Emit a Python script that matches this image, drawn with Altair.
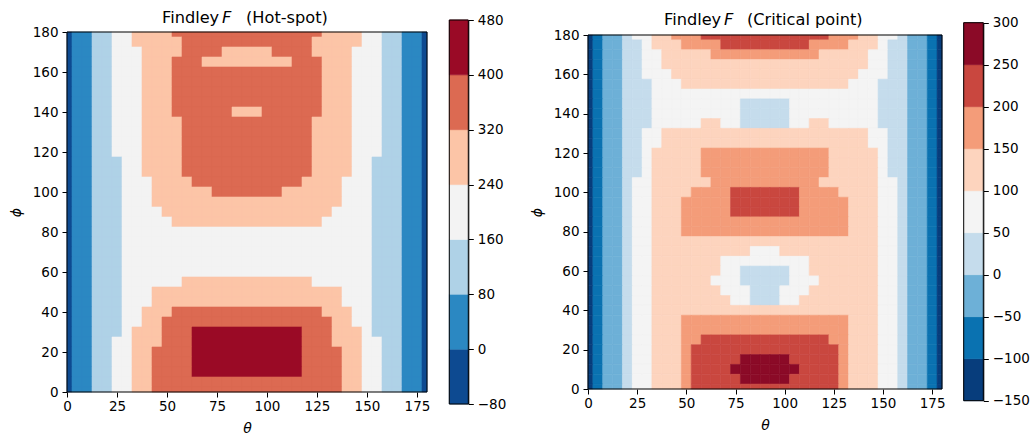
import altair as alt
import pandas as pd

# Sampling grid of the two Findley maps (degrees). Rows run from phi = 180 down to 0,
# columns from theta = 0 to 90; both maps are mirror-symmetric about theta = 90.
PHI = list(range(180, -1, -5))
THETA_HALF = list(range(0, 91, 5))

HOT_LEVELS = [-80, 0, 80, 160, 240, 320, 400, 480]
HOT_COLORS = ["#0d4a91", "#2b88c2", "#afd2e7", "#f3f3f3", "#fcc5a7", "#dc6a52", "#9a0a26"]

CRIT_LEVELS = [-150, -100, -50, 0, 50, 100, 150, 200, 250, 300]
CRIT_COLORS = ["#073d7c", "#0a72b1", "#6db0d7", "#c5dcec", "#f4f4f4",
               "#fdd4be", "#f49c79", "#c9473f", "#8b0a27"]

X_TICKS = [0, 25, 50, 75, 100, 125, 150, 175]
Y_TICKS = [0, 20, 40, 60, 80, 100, 120, 140, 160, 180]

# Findley parameter F at the hot-spot
HOT_F = [
    [-15, 25, 65, 102, 138, 176, 207, 241, 264, 288, 313, 330, 340, 345, 345, 340, 335, 330, 330],  # 180
    [-15, 25, 65, 102, 138, 175, 206, 240, 255, 271, 290, 316, 330, 335, 335, 333, 330, 328, 326],  # 175
    [-15, 25, 65, 102, 138, 175, 204, 238, 256, 275, 295, 317, 330, 328, 326, 321, 318, 317, 317],  # 170
    [-15, 25, 65, 102, 138, 173, 203, 237, 257, 277, 297, 321, 328, 322, 312, 308, 305, 303, 303],  # 165
    [-15, 25, 65, 102, 138, 172, 202, 235, 258, 280, 302, 322, 332, 334, 330, 326, 324, 322, 322],  # 160
    [-15, 25, 65, 102, 138, 171, 201, 233, 258, 283, 305, 325, 338, 345, 345, 345, 345, 343, 342],  # 155
    [-15, 25, 65, 102, 138, 170, 200, 232, 257, 282, 304, 324, 336, 342, 342, 340, 338, 335, 333],  # 150
    [-15, 25, 65, 102, 138, 169, 199, 231, 256, 280, 302, 323, 335, 340, 340, 338, 334, 330, 326],  # 145
    [-15, 25, 65, 102, 138, 168, 198, 230, 254, 278, 300, 321, 333, 338, 336, 331, 326, 318, 314],  # 140
    [-15, 25, 65, 102, 138, 167, 198, 229, 252, 275, 298, 316, 332, 340, 342, 340, 338, 335, 333],  # 135
    [-15, 25, 65, 102, 138, 166, 197, 228, 250, 271, 292, 310, 326, 340, 348, 350, 350, 350, 350],  # 130
    [-15, 25, 65, 102, 138, 163, 194, 227, 248, 269, 289, 308, 322, 338, 350, 354, 356, 357, 357],  # 125
    [-15, 25, 65, 102, 138, 161, 190, 225, 245, 266, 286, 305, 321, 338, 350, 355, 358, 360, 360],  # 120
    [-15, 25, 65, 102, 138, 155, 186, 223, 242, 263, 284, 305, 324, 340, 352, 358, 362, 364, 364],  # 115
    [-15, 25, 65, 102, 138, 150, 183, 222, 241, 260, 281, 302, 325, 340, 352, 360, 365, 368, 368],  # 110
    [-15, 22, 60, 93, 125, 148, 180, 218, 235, 255, 275, 293, 310, 326, 345, 355, 360, 362, 362],  # 105
    [-15, 22, 60, 93, 125, 147, 177, 215, 230, 250, 262, 275, 288, 300, 318, 332, 340, 345, 345],  # 100
    [-15, 22, 60, 93, 125, 146, 174, 210, 228, 243, 255, 265, 273, 280, 288, 295, 300, 305, 307],  # 95
    [-15, 22, 60, 93, 125, 146, 172, 205, 220, 235, 245, 253, 260, 265, 270, 273, 275, 276, 276],  # 90
    [-15, 22, 60, 93, 125, 145, 170, 202, 215, 228, 237, 244, 250, 253, 255, 256, 257, 257, 257],  # 85
    [-15, 22, 60, 93, 125, 143, 168, 200, 213, 222, 228, 232, 234, 235, 236, 236, 236, 236, 236],  # 80
    [-15, 22, 60, 93, 125, 142, 166, 197, 208, 213, 215, 214, 212, 208, 205, 202, 200, 199, 198],  # 75
    [-15, 22, 60, 93, 125, 140, 165, 195, 205, 210, 212, 212, 210, 207, 204, 202, 200, 199, 199],  # 70
    [-15, 22, 60, 93, 125, 135, 164, 193, 205, 212, 216, 218, 219, 219, 219, 219, 219, 219, 219],  # 65
    [-15, 22, 60, 93, 125, 130, 164, 193, 207, 216, 224, 230, 233, 234, 234, 233, 232, 232, 232],  # 60
    [-15, 22, 60, 93, 125, 135, 166, 196, 215, 225, 230, 238, 244, 246, 246, 245, 243, 241, 241],  # 55
    [-15, 22, 60, 93, 125, 140, 168, 200, 225, 241, 250, 262, 272, 280, 285, 288, 290, 290, 290],  # 50
    [-15, 25, 65, 100, 135, 146, 178, 215, 237, 255, 275, 292, 305, 312, 316, 318, 318, 318, 318],  # 45
    [-15, 25, 65, 100, 135, 150, 186, 226, 252, 275, 310, 325, 332, 340, 345, 350, 352, 353, 353],  # 40
    [-15, 25, 65, 100, 135, 154, 192, 232, 255, 285, 322, 345, 365, 380, 390, 395, 397, 398, 398],  # 35
    [-15, 25, 65, 100, 135, 158, 199, 242, 275, 312, 340, 362, 385, 405, 415, 420, 425, 428, 430],  # 30
    [-15, 25, 65, 100, 135, 160, 201, 244, 280, 318, 345, 368, 396, 412, 425, 432, 437, 440, 440],  # 25
    [-15, 25, 65, 100, 135, 162, 203, 245, 281, 321, 347, 370, 398, 415, 428, 436, 442, 444, 445],  # 20
    [-15, 25, 65, 100, 135, 164, 205, 245, 281, 321, 347, 370, 397, 414, 427, 435, 440, 442, 443],  # 15
    [-15, 25, 65, 100, 135, 166, 207, 246, 280, 321, 345, 366, 390, 408, 420, 427, 432, 434, 435],  # 10
    [-15, 25, 65, 100, 135, 167, 208, 246, 278, 321, 340, 358, 375, 388, 395, 398, 399, 399, 399],  # 5
    [-15, 25, 65, 100, 135, 168, 210, 247, 275, 321, 335, 350, 362, 370, 377, 382, 385, 386, 386],  # 0
]

# Findley parameter F at the critical point
CRIT_F = [
    [-110, -80, -45, -12, 20, 51, 80, 108, 130, 154, 170, 188, 202, 215, 225, 232, 237, 240, 241],  # 180
    [-110, -80, -45, -12, 20, 48, 78, 102, 122, 142, 155, 175, 190, 199, 204, 207, 209, 210, 210],  # 175
    [-110, -80, -46, -14, 16, 45, 75, 96, 112, 124, 133, 141, 148, 153, 156, 158, 159, 160, 160],  # 170
    [-110, -80, -47, -15, 14, 42, 70, 90, 104, 113, 120, 125, 130, 133, 135, 137, 138, 139, 139],  # 165
    [-110, -80, -48, -17, 10, 36, 60, 80, 94, 103, 108, 112, 115, 117, 118, 118, 118, 118, 118],  # 160
    [-110, -82, -48, -19, 7, 30, 46, 64, 78, 90, 101, 104, 106, 107, 107, 107, 106, 106, 106],  # 155
    [-110, -83, -48, -21, 4, 28, 48, 62, 72, 80, 86, 90, 92, 92, 90, 85, 75, 68, 65],  # 150
    [-110, -84, -49, -23, 1, 25, 42, 54, 64, 72, 78, 80, 78, 72, 62, 52, 40, 32, 28],  # 145
    [-110, -84, -49, -23, 1, 25, 43, 56, 67, 76, 83, 86, 84, 76, 64, 52, 38, 28, 22],  # 140
    [-110, -84, -48, -22, 3, 28, 46, 62, 75, 86, 94, 99, 101, 101, 92, 70, 48, 38, 35],  # 135
    [-110, -83, -47, -20, 8, 36, 58, 82, 102, 112, 120, 125, 128, 128, 125, 120, 114, 110, 108],  # 130
    [-110, -82, -47, -18, 12, 42, 68, 98, 112, 122, 130, 137, 142, 147, 149, 149, 149, 149, 149],  # 125
    [-110, -81, -47, -16, 15, 46, 72, 101, 118, 130, 138, 145, 152, 160, 165, 168, 170, 171, 171],  # 120
    [-110, -80, -47, -14, 17, 48, 74, 101, 118, 130, 138, 145, 153, 163, 170, 175, 178, 180, 180],  # 115
    [-110, -80, -47, -13, 18, 49, 76, 102, 120, 132, 140, 146, 152, 163, 172, 180, 185, 188, 188],  # 110
    [-110, -80, -46, -12, 20, 51, 77, 102, 120, 132, 140, 145, 148, 155, 170, 185, 193, 197, 198],  # 105
    [-110, -80, -46, -12, 20, 51, 78, 104, 125, 140, 148, 158, 170, 180, 192, 202, 208, 210, 210],  # 100
    [-110, -80, -46, -12, 20, 51, 78, 105, 127, 142, 152, 165, 180, 192, 199, 212, 218, 222, 223],  # 95
    [-110, -80, -46, -12, 20, 51, 78, 105, 127, 143, 155, 168, 182, 193, 199, 212, 218, 222, 223],  # 90
    [-110, -80, -46, -12, 20, 51, 78, 105, 126, 142, 154, 164, 174, 182, 188, 192, 195, 196, 197],  # 85
    [-110, -80, -46, -12, 20, 51, 78, 104, 122, 137, 151, 158, 164, 168, 170, 171, 172, 172, 172],  # 80
    [-110, -80, -46, -12, 20, 51, 77, 102, 117, 127, 135, 140, 143, 145, 146, 146, 145, 145, 145],  # 75
    [-110, -80, -46, -12, 20, 51, 77, 102, 113, 120, 124, 125, 124, 121, 116, 110, 104, 99, 98],  # 70
    [-110, -80, -46, -12, 20, 51, 76, 101, 110, 115, 117, 115, 110, 103, 94, 80, 65, 56, 52],  # 65
    [-110, -80, -46, -12, 20, 51, 76, 101, 108, 112, 112, 109, 103, 101, 82, 62, 44, 34, 30],  # 60
    [-110, -80, -46, -12, 20, 51, 76, 101, 108, 112, 112, 109, 103, 98, 84, 63, 44, 32, 26],  # 55
    [-110, -80, -46, -12, 20, 51, 76, 101, 109, 114, 116, 114, 110, 104, 92, 72, 52, 40, 36],  # 50
    [-110, -80, -46, -12, 20, 51, 77, 102, 113, 120, 124, 124, 120, 112, 103, 85, 58, 48, 45],  # 45
    [-110, -80, -46, -12, 20, 51, 77, 103, 118, 128, 136, 141, 144, 145, 143, 140, 135, 130, 128],  # 40
    [-110, -80, -46, -12, 20, 51, 77, 104, 125, 142, 155, 165, 172, 177, 180, 182, 183, 183, 183],  # 35
    [-110, -80, -46, -12, 20, 51, 78, 105, 128, 148, 165, 178, 188, 194, 197, 198, 199, 199, 199],  # 30
    [-110, -80, -46, -12, 20, 51, 78, 106, 130, 149, 172, 192, 203, 210, 215, 218, 220, 221, 221],  # 25
    [-110, -80, -46, -12, 20, 51, 78, 106, 130, 149, 178, 201, 212, 222, 232, 238, 242, 244, 245],  # 20
    [-110, -80, -46, -12, 20, 51, 78, 106, 130, 149, 180, 202, 215, 228, 240, 248, 251, 252, 252],  # 15
    [-110, -80, -46, -12, 20, 51, 78, 106, 130, 149, 180, 203, 218, 234, 246, 251, 262, 266, 268],  # 10
    [-110, -80, -46, -12, 20, 51, 78, 106, 130, 149, 178, 201, 215, 230, 242, 249, 257, 260, 261],  # 5
    [-110, -80, -46, -12, 20, 51, 78, 105, 128, 149, 172, 201, 208, 220, 232, 238, 242, 244, 245],  # 0
]

FONT = "DejaVu Sans"
STEP = 5.0


def grid_frame(rows):
    """One cell per (theta, phi) sample, theta mirrored about 90 degrees."""
    recs = []
    for phi, row in zip(PHI, rows):
        for th in range(0, 181, 5):
            idx = th // 5 if th <= 90 else (180 - th) // 5
            recs.append({
                "t0": max(th - STEP / 2, 0), "t1": min(th + STEP / 2, 180),
                "p0": max(phi - STEP / 2, 0), "p1": min(phi + STEP / 2, 180),
                "F": row[idx],
            })
    return pd.DataFrame(recs)


def panel(rows, levels, colors, w, h, top, cbar, title_parts, title_y):
    """Map of F with its colour bar; the map occupies y in [top, top + h]."""
    cscale = alt.Scale(type="threshold", domain=levels[1:-1], range=colors)
    xenc = alt.X("t0:Q", scale=alt.Scale(domain=[0, 180], nice=False, zero=False),
                 axis=alt.Axis(values=X_TICKS, title="θ", domain=False, labelFlush=False,
                               labelPadding=2))
    yenc = alt.Y("p0:Q", scale=alt.Scale(domain=[0, 180], range=[top + h, top],
                                         nice=False, zero=False),
                 axis=alt.Axis(values=Y_TICKS, title="ϕ", domain=False, labelFlush=False))

    heat = alt.Chart(grid_frame(rows)).mark_rect(strokeWidth=0.6).encode(
        x=xenc, x2="t1:Q", y=yenc, y2="p1:Q",
        color=alt.Color("F:Q", scale=cscale, legend=None),
        stroke=alt.Stroke("F:Q", scale=cscale, legend=None),
    )
    frame = alt.Chart(pd.DataFrame({"t0": [0], "t1": [180], "p0": [0], "p1": [180]})).mark_rect(
        fillOpacity=0, stroke="black", strokeWidth=1
    ).encode(x=xenc, x2="t1:Q", y=yenc, y2="p1:Q")
    mapview = alt.layer(heat, frame)

    # colour bar beside the map
    x0, x1, ytop, ybot = cbar
    cb_y = alt.Y("lo:Q",
                 scale=alt.Scale(domain=[levels[0], levels[-1]], range=[ybot, ytop],
                                 nice=False, zero=False),
                 axis=alt.Axis(orient="right", values=levels, offset=x1 - w, title=None,
                               domain=True, domainColor="black", labelFlush=False,
                               labelOverlap=False))
    bands_df = pd.DataFrame({"lo": levels[:-1], "hi": levels[1:], "F": levels[:-1]})
    bands = alt.Chart(bands_df).mark_rect(strokeWidth=0.6).encode(
        x=alt.value(x0), x2=alt.value(x1), y=cb_y, y2="hi:Q",
        color=alt.Color("F:Q", scale=cscale, legend=None),
        stroke=alt.Stroke("F:Q", scale=cscale, legend=None),
    )
    outline = alt.Chart(pd.DataFrame({"lo": [levels[0]], "hi": [levels[-1]]})).mark_rect(
        fillOpacity=0, stroke="black", strokeWidth=1
    ).encode(x=alt.value(x0), x2=alt.value(x1), y=cb_y, y2="hi:Q")
    colorbar = alt.layer(bands, outline)

    texts = []
    for s, px, style in title_parts:
        texts.append(
            alt.Chart(pd.DataFrame({"s": [s]})).mark_text(
                align="left", baseline="alphabetic", fontSize=16.2, font=FONT,
                fontStyle=style, color="black"
            ).encode(x=alt.value(px), y=alt.value(title_y), text="s:N")
        )

    return alt.layer(mapview, colorbar, *texts).resolve_scale(y="independent").properties(
        width=w, height=top + h
    )


left = panel(HOT_F, HOT_LEVELS, HOT_COLORS, 360, 360, 0,
             (382.3, 401.3, -12, 372),
             [("Findley", 95, "normal"), ("F", 155, "italic"), ("(Hot-spot)", 179, "normal")],
             -9)
right = panel(CRIT_F, CRIT_LEVELS, CRIT_COLORS, 354, 354, 3,
              (375.7, 395.3, -9.3, 368.7),
              [("Findley", 76, "normal"), ("F", 136, "italic"), ("(Critical point)", 159, "normal")],
              -7)

chart = alt.hconcat(left, right, spacing=24).resolve_scale(
    color="independent", stroke="independent"
).properties(
    padding={"left": 9, "top": 10, "right": 0, "bottom": 0}
).configure(
    font=FONT, background="white"
).configure_view(
    strokeWidth=0
).configure_axis(
    grid=False, labelFont=FONT, labelFontSize=13.5, labelColor="black",
    tickColor="black", tickSize=5, tickWidth=1, labelPadding=4,
    titleFont=FONT, titleFontSize=14, titleFontWeight="normal", titleColor="black",
    titleFontStyle="italic", titlePadding=9,
)

chart.save("out.html", embed_options={"renderer": "svg", "actions": False})
